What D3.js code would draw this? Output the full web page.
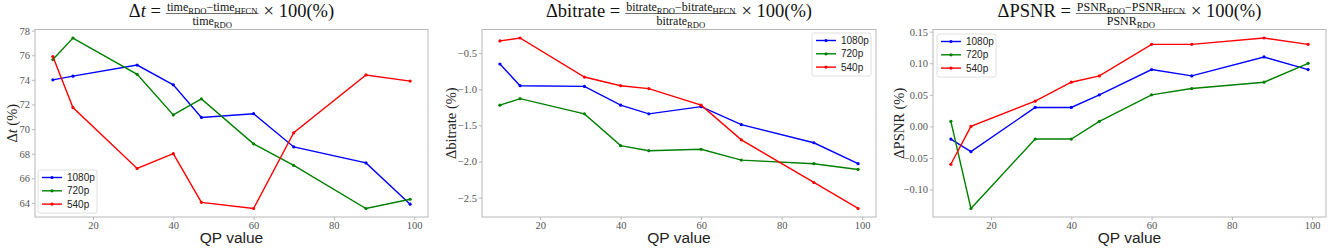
<!DOCTYPE html>
<html>
<head>
<meta charset="utf-8">
<script src="https://cdn.jsdelivr.net/npm/d3@7"></script>
<style>
  html, body { margin: 0; padding: 0; background: #fff; }
</style>
</head>
<body>
<div id="grafico"></div>
<script>
// QP values on the x axis, shared by the three panels
const qp = [10, 15, 31, 40, 47, 60, 70, 88, 99];
const xTicks = [20, 40, 60, 80, 100];
const seriesNames = ["1080p", "720p", "540p"];
const seriesColors = ["#0000ff", "#008000", "#ff0000"];

// Δt (%)
const time1080 = [74.0, 74.3, 75.2, 73.6, 70.95, 71.25, 68.55, 67.25, 63.9];
const time720 = [75.65, 77.4, 74.45, 71.15, 72.45, 68.8, 67.05, 63.55, 64.3];
const time540 = [75.9, 71.75, 66.8, 68.0, 64.05, 63.55, 69.7, 74.4, 73.9];
const timeTicks = [64, 66, 68, 70, 72, 74, 76, 78];

// Δbitrate (%)
const bitrate1080 = [-0.65, -0.95, -0.96, -1.22, -1.34, -1.24, -1.49, -1.74, -2.03];
const bitrate720 = [-1.22, -1.13, -1.34, -1.78, -1.85, -1.83, -1.98, -2.03, -2.11];
const bitrate540 = [-0.33, -0.29, -0.83, -0.95, -0.99, -1.22, -1.7, -2.29, -2.65];
const bitrateTicks = [-2.5, -2.0, -1.5, -1.0, -0.5];

// ΔPSNR (%)
const psnr1080 = [-0.02, -0.04, 0.03, 0.03, 0.05, 0.09, 0.08, 0.11, 0.09];
const psnr720 = [0.008, -0.13, -0.02, -0.02, 0.008, 0.05, 0.06, 0.07, 0.1];
const psnr540 = [-0.06, 0.0, 0.04, 0.07, 0.08, 0.13, 0.13, 0.14, 0.13];
const psnrTicks = [-0.1, -0.05, 0.0, 0.05, 0.1, 0.15];

const width = 1341;
const height = 249;
const plotTop = 29.5;
const plotBottom = 217;

const serif = "'Liberation Serif', 'DejaVu Serif', serif";
const sans = "'Liberation Sans', Arial, sans-serif";

const panels = [
  {
    left: 35, right: 428,
    series: [time1080, time720, time540],
    ticks: timeTicks, fmt: (d) => d3.format("d")(d),
    lhs: [["Δ", ""], ["t", "italic"], [" =", ""]],
    num: [["time", ""], ["RDO", "sub"], ["−time", ""], ["HFCN", "sub"]],
    den: [["time", ""], ["RDO", "sub"]],
    ylabel: [["Δ", ""], ["t", "italic"], [" (%)", ""]],
    ylabelX: 12,
    legend: { x: 38, y: 170 }
  },
  {
    left: 482, right: 876,
    series: [bitrate1080, bitrate720, bitrate540],
    ticks: bitrateTicks, fmt: (d) => d3.format(".1f")(d),
    lhs: [["Δbitrate =", ""]],
    num: [["bitrate", ""], ["RDO", "sub"], ["−bitrate", ""], ["HFCN", "sub"]],
    den: [["bitrate", ""], ["RDO", "sub"]],
    ylabel: [["Δbitrate (%)", ""]],
    ylabelX: 451,
    legend: { x: 812, y: 33 }
  },
  {
    left: 933, right: 1326,
    series: [psnr1080, psnr720, psnr540],
    ticks: psnrTicks, fmt: (d) => d3.format(".2f")(d),
    lhs: [["ΔPSNR =", ""]],
    num: [["PSNR", ""], ["RDO", "sub"], ["−PSNR", ""], ["HFCN", "sub"]],
    den: [["PSNR", ""], ["RDO", "sub"]],
    ylabel: [["ΔPSNR (%)", ""]],
    ylabelX: 899,
    legend: { x: 937, y: 34 }
  }
];

const svg = d3.select("#grafico")
  .append("svg")
  .attr("width", width)
  .attr("height", height)
  .attr("viewBox", [0, 0, width, height])
  .style("display", "block");

// matplotlib style 5% padding around the data
function padded(lo, hi) {
  const m = (hi - lo) * 0.05;
  return [lo - m, hi + m];
}

// write a run of [text, style] parts into a text element
// subscripts drop by `shift`, the next part climbs back up
function writeParts(textSel, parts, size) {
  const shift = size * 0.28;
  let back = 0;
  parts.forEach(([t, s]) => {
    const ts = textSel.append("tspan").text(t);
    if (s === "italic") ts.attr("font-style", "italic");
    if (s === "sub") {
      ts.attr("font-size", size * 0.72).attr("dy", shift - back);
      back = shift;
    } else {
      if (back) ts.attr("dy", -back);
      back = 0;
    }
  });
}

panels.forEach((p) => {
  const x = d3.scaleLinear().domain(padded(10, 99)).range([p.left, p.right]);
  const all = p.series.flat();
  const y = d3.scaleLinear()
    .domain(padded(d3.min(all), d3.max(all)))
    .range([plotBottom, plotTop]);

  const g = svg.append("g");

  // frame
  g.append("rect")
    .attr("x", p.left)
    .attr("y", plotTop)
    .attr("width", p.right - p.left)
    .attr("height", plotBottom - plotTop)
    .attr("fill", "none")
    .attr("stroke", "#b8b8b8")
    .attr("stroke-width", 1);

  // x ticks
  const xa = g.append("g").attr("transform", `translate(0,${plotBottom})`)
    .call(d3.axisBottom(x).tickValues(xTicks).tickSize(3).tickPadding(2));
  xa.select(".domain").remove();
  xa.selectAll("line").attr("stroke", "#b8b8b8");
  xa.selectAll("text")
    .attr("font-family", serif)
    .attr("font-size", 10.5)
    .attr("fill", "#555");

  // y ticks
  const ya = g.append("g").attr("transform", `translate(${p.left},0)`)
    .call(d3.axisLeft(y).tickValues(p.ticks).tickSize(3).tickPadding(2)
      .tickFormat((d) => p.fmt(d).replace("-", "−")));
  ya.select(".domain").remove();
  ya.selectAll("line").attr("stroke", "#b8b8b8");
  ya.selectAll("text")
    .attr("font-family", serif)
    .attr("font-size", 10.5)
    .attr("fill", "#555");

  // lines
  const line = d3.line().x((d, i) => x(qp[i])).y((d) => y(d));
  p.series.forEach((s, k) => {
    g.append("path")
      .datum(s)
      .attr("d", line)
      .attr("fill", "none")
      .attr("stroke", seriesColors[k])
      .attr("stroke-width", 1.4);
    g.selectAll(null)
      .data(s)
      .join("circle")
      .attr("cx", (d, i) => x(qp[i]))
      .attr("cy", (d) => y(d))
      .attr("r", 1.6)
      .attr("fill", seriesColors[k]);
  });

  // legend
  const lg = g.append("g").attr("transform", `translate(${p.legend.x},${p.legend.y})`);
  lg.append("rect")
    .attr("width", 59)
    .attr("height", 43)
    .attr("rx", 2)
    .attr("fill", "#fff")
    .attr("fill-opacity", 0.8)
    .attr("stroke", "#e0e0e0");
  seriesNames.forEach((name, k) => {
    const yy = 7.5 + k * 13.3;
    lg.append("line")
      .attr("x1", 4).attr("x2", 24)
      .attr("y1", yy).attr("y2", yy)
      .attr("stroke", seriesColors[k])
      .attr("stroke-width", 1.4);
    lg.append("circle").attr("cx", 14).attr("cy", yy).attr("r", 1.6).attr("fill", seriesColors[k]);
    lg.append("text")
      .attr("x", 29).attr("y", yy)
      .attr("dy", "0.35em")
      .attr("font-family", sans)
      .attr("font-size", 10)
      .attr("fill", "#222")
      .text(name);
  });

  // x label
  g.append("text")
    .attr("x", (p.left + p.right) / 2)
    .attr("y", 243)
    .attr("text-anchor", "middle")
    .attr("font-family", sans)
    .attr("font-size", 15.5)
    .attr("fill", "#222")
    .text("QP value");

  // y label
  const yl = g.append("text")
    .attr("transform", `translate(${p.ylabelX},${(plotTop + plotBottom) / 2}) rotate(-90)`)
    .attr("text-anchor", "middle")
    .attr("dy", "0.35em")
    .attr("font-family", serif)
    .attr("font-size", 14.5)
    .attr("fill", "#222");
  writeParts(yl, p.ylabel, 14.5);

  // title: lhs = num / den × 100(%)
  const tg = g.append("g").attr("font-family", serif).attr("fill", "#111");
  const big = 18.5;
  const small = 12;
  const lhs = tg.append("text").attr("y", 17).attr("font-size", big);
  writeParts(lhs, p.lhs, big);
  const num = tg.append("text").attr("y", 10.5).attr("font-size", small).attr("text-anchor", "middle");
  writeParts(num, p.num, small);
  const den = tg.append("text").attr("y", 24.5).attr("font-size", small).attr("text-anchor", "middle");
  writeParts(den, p.den, small);
  const rhs = tg.append("text").attr("y", 17).attr("font-size", big).text("× 100(%)");

  const wl = lhs.node().getComputedTextLength();
  const wf = Math.max(num.node().getComputedTextLength(), den.node().getComputedTextLength()) + 2;
  const wr = rhs.node().getComputedTextLength();
  const gap = 5;
  const total = wl + gap + wf + gap + wr;
  const x0 = (p.left + p.right) / 2 - total / 2;
  lhs.attr("x", x0);
  num.attr("x", x0 + wl + gap + wf / 2);
  den.attr("x", x0 + wl + gap + wf / 2);
  tg.append("line")
    .attr("x1", x0 + wl + gap).attr("x2", x0 + wl + gap + wf)
    .attr("y1", 13.5).attr("y2", 13.5)
    .attr("stroke", "#111").attr("stroke-width", 0.6);
  rhs.attr("x", x0 + wl + gap + wf + gap);
});
</script>
</body>
</html>
